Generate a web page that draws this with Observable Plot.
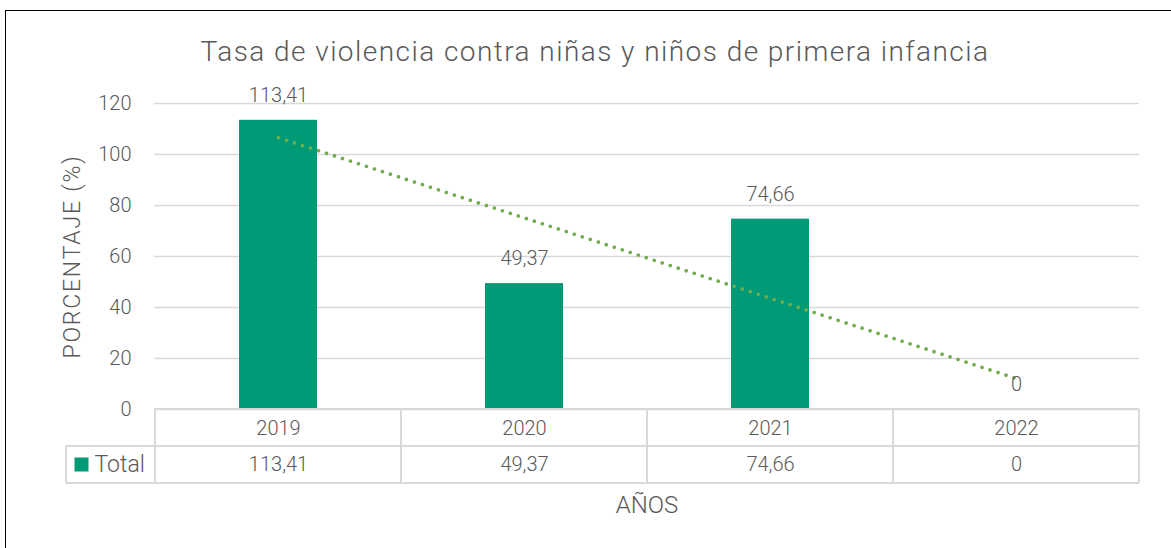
<!DOCTYPE html>
<html><head><meta charset="utf-8">
<script src="https://cdn.jsdelivr.net/npm/d3@7"></script>
<script src="https://cdn.jsdelivr.net/npm/@observablehq/plot@0.6"></script>
<style>
body{margin:0;background:#fff;}
#wrap{position:relative;width:1171px;height:548px;overflow:hidden;font-family:Roboto,sans-serif;background:#fff;}
#title{position:absolute;left:0;width:1190px;top:34px;text-align:center;font-size:28px;letter-spacing:1.45px;font-weight:300;color:#595959;line-height:36px;white-space:nowrap;}
#chart{position:absolute;left:0;top:0;}
#frameTop{position:absolute;left:5px;top:10px;width:1166px;height:0;border-top:1.5px solid #000;}
#frameLeft{position:absolute;left:5px;top:10px;width:0;height:540px;border-left:1.5px solid #000;}
.ylab text{letter-spacing:1.8px;}
</style></head><body>
<div id="wrap"><div id="chart"></div><div id="title"></div><div id="frameTop"></div><div id="frameLeft"></div></div>
<script>
const years = ["2019", "2020", "2021", "2022"];
const totals = [113.41, 49.37, 74.66, 0];
const yTicks = [0, 20, 40, 60, 80, 100, 120];
const seriesName = "Total";
const titleText = "Tasa de violencia contra niñas y niños de primera infancia";
const yLabel = "PORCENTAJE (%)";
const xLabel = "AÑOS";

const BAR = "#009a76", TREND = "#70ad47", TXT = "#595959", LINE = "#d9d9d9";
const fmt = v => String(v).replace(".", ",");

document.getElementById("title").textContent = titleText;

const data = years.map((y, i) => ({year: y, value: totals[i], label: fmt(totals[i])}));
// linear trendline (least squares over category index, as in a spreadsheet trendline)
const xs = totals.map((_, i) => i + 1);
const mx = d3.mean(xs), my = d3.mean(totals);
const slope = d3.sum(xs.map((x, i) => (x - mx) * (totals[i] - my))) / d3.sum(xs.map(x => (x - mx) ** 2));
const intercept = my - slope * mx;
const trend = years.map((y, i) => ({year: y, value: intercept + slope * (i + 1)}));

function tableGrid(index, scales, values, dims) {
  const x = scales.x;
  const bw = x.bandwidth(), step = x.step();
  const top = dims.height - dims.marginBottom;
  const rowH = 37;
  const right = dims.width - dims.marginRight;
  const legendLeft = dims.marginLeft - 88;
  const g = d3.create("svg:g").attr("stroke", LINE).attr("stroke-width", 2).attr("fill", "none");
  const line = (x1, y1, x2, y2) => g.append("line").attr("x1", x1).attr("y1", y1).attr("x2", x2).attr("y2", y2);
  line(dims.marginLeft, top, right, top);
  line(legendLeft, top + rowH, right, top + rowH);
  line(legendLeft, top + 2 * rowH, right, top + 2 * rowH);
  years.forEach(y => {
    const bx = x(y) + bw / 2 - step / 2;
    line(bx, top, bx, top + 2 * rowH);
  });
  line(right, top, right, top + 2 * rowH);
  line(legendLeft, top + rowH, legendLeft, top + 2 * rowH);
  return g.node();
}

const common = {fill: TXT, fontWeight: 300, lineAnchor: "middle"};

const chart = Plot.plot({
  width: 1171, height: 548,
  marginLeft: 154, marginRight: 32, marginTop: 103, marginBottom: 139,
  style: {fontFamily: "Roboto, sans-serif", fontSize: "20px", color: TXT, background: "transparent"},
  x: {domain: years, paddingInner: 0.683, paddingOuter: 0.3415, axis: null},
  y: {domain: [0, 120], axis: null},
  marks: [
    Plot.gridY(yTicks, {stroke: LINE, strokeOpacity: 1, strokeWidth: 1.5}),
    Plot.axisY(yTicks, {tickSize: 0, tickPadding: 23, label: null, fontSize: 20, fill: TXT, fontWeight: 300}),
    Plot.barY(data, {x: "year", y: "value", fill: BAR}),
    Plot.line(trend, {x: "year", y: "value", stroke: TREND, strokeWidth: 3.6, strokeDasharray: "0.01 8.4", strokeLinecap: "round"}),
    Plot.text(data, {x: "year", y: "value", text: "label", dy: -25, fontSize: 20, ...common}),
    tableGrid,
    Plot.text(data, {x: "year", text: "year", frameAnchor: "bottom", dy: 19, fontSize: 20, ...common}),
    Plot.text(data, {x: "year", text: "label", frameAnchor: "bottom", dy: 55.5, fontSize: 20, ...common}),
    Plot.dot([seriesName], {frameAnchor: "bottom-left", dx: -73, dy: 55, symbol: "square", r: 7.9, fill: BAR, stroke: null}),
    Plot.text([seriesName], {frameAnchor: "bottom-left", dx: -60, dy: 55.5, textAnchor: "start", text: d => d, fontSize: 23, ...common}),
    Plot.text([yLabel], {frameAnchor: "left", dx: -82, rotate: -90, textAnchor: "middle", text: d => d, fontSize: 23, className: "ylab", ...common}),
    Plot.text([xLabel], {frameAnchor: "bottom", dy: 96, textAnchor: "middle", text: d => d, fontSize: 24, ...common})
  ]
});
document.getElementById("chart").append(chart);
</script>
</body></html>
